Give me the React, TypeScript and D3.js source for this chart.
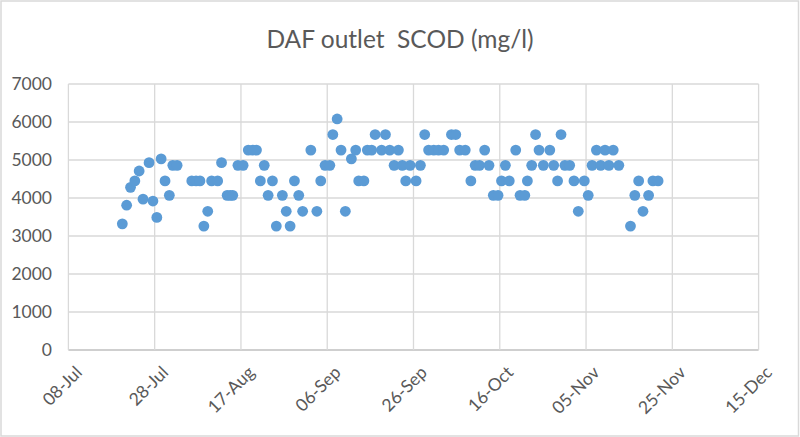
import React from "react";
import * as d3 from "d3";

// Days since 08-Jul and SCOD values (mg/l)
const dayOffsets = [
  12.5, 13.5, 14.4, 15.4, 16.4, 17.3, 18.7, 19.6, 20.5, 21.5, 22.4, 23.4, 24.2, 25.2,
  28.6, 29.6, 30.5, 31.4, 32.3, 33.2, 34.6, 35.5, 36.8, 37.5, 38.1, 39.3, 40.5,
  41.7, 42.7, 43.6, 44.5, 45.4, 46.3, 47.3, 48.2, 49.6, 50.5, 51.4, 52.4, 53.4, 54.3,
  56.2, 57.6, 58.5, 59.5, 60.6, 61.3, 62.3, 63.2, 64.2, 65.6, 66.6, 67.3, 68.5,
  69.3, 70.3, 71.1, 72.6, 73.5, 74.5, 75.5, 76.5, 77.4, 78.2, 79.2, 80.6, 81.6, 82.6,
  83.5, 84.7, 85.8, 87.0, 88.8, 89.8, 90.7, 92.0, 93.3, 94.3, 95.3, 96.5, 97.5,
  98.5, 99.6, 100.4, 101.3, 102.2, 103.7, 104.7, 105.8, 106.4, 107.4, 108.3, 109.1,
  110.1, 111.6, 112.5, 113.4, 114.2, 115.1, 116.2, 117.2, 118.2, 119.6, 120.5, 121.4,
  122.4, 123.4, 124.4, 125.3, 126.3, 127.6, 130.3, 131.3, 132.2, 133.2, 134.5, 135.5, 136.7,
];
const scod = [
  3320, 3810, 4280, 4450, 4710, 3970, 4930, 3920, 3490, 5030, 4450, 4070, 4860, 4860,
  4450, 4450, 4450, 3260, 3650, 4450, 4450, 4930, 4070, 4070, 4070, 4860, 4860,
  5260, 5260, 5260, 4450, 4860, 4070, 4450, 3260, 4070, 3650, 3260, 4450, 4070, 3650,
  5260, 3650, 4450, 4860, 4860, 5670, 6080, 5260, 3650, 5030, 5260, 4450, 4450,
  5260, 5260, 5670, 5260, 5670, 5260, 4860, 5260, 4860, 4450, 4860, 4450, 4860, 5670,
  5260, 5260, 5260, 5260, 5670, 5670, 5260, 5260, 4450, 4860, 4860, 5260, 4860,
  4070, 4070, 4450, 4860, 4450, 5260, 4070, 4070, 4450, 4860, 5670, 5260,
  4860, 5260, 4860, 4450, 5670, 4860, 4860, 4450, 3650, 4450, 4070, 4860,
  5260, 4860, 5260, 4860, 5260, 4860, 3260, 4070, 4450, 3650, 4070, 4450, 4450,
];
const yTicks = [0, 1000, 2000, 3000, 4000, 5000, 6000, 7000];
const xTickDays = [0, 20, 40, 60, 80, 100, 120, 140, 160];
const title = "DAF outlet\u00A0 SCOD (mg/l)";

const startDate = new Date(2019, 6, 8);
const endDate = new Date(2019, 11, 15);
const addDays = (d: Date, n: number) => new Date(d.getTime() + n * 86400000);

export default function App() {
  const W = 800, H = 437;
  const left = 68.4, right = 758.6, top = 84, bottom = 350;
  const x = d3.scaleTime().domain([startDate, endDate]).range([left, right]);
  const y = d3.scaleLinear().domain([0, 7000]).range([bottom, top]);
  const fmt = d3.timeFormat("%d-%b");
  const font = "Lato, 'Open Sans', sans-serif";
  const txt = "#595959";
  const points = dayOffsets.map((d, i) => ({ date: addDays(startDate, d), v: scod[i] }));
  const xTicks = xTickDays.map((d) => addDays(startDate, d));

  return (
    <svg width={W} height={H} style={{ position: "absolute", left: 0, top: 0 }} fontFamily={font}>
      <rect x={0} y={0} width={W} height={H} fill="#fff" />
      <rect x={1} y={1} width={W - 2.5} height={H - 2} fill="none" stroke="#d9d9d9" strokeWidth={1.5} />
      <text x={400} y={48} textAnchor="middle" fontSize={24.5} fill={txt}>{title}</text>
      {yTicks.map((t) => (
        <g key={"y" + t}>
          <line x1={left} x2={right} y1={y(t)} y2={y(t)} stroke={t === 0 ? "#bfbfbf" : "#d9d9d9"} strokeWidth={1.3} />
          <text x={52} y={y(t)} dy="0.36em" textAnchor="end" fontSize={17.5} fill={txt}>{t}</text>
        </g>
      ))}
      {xTicks.map((t, i) => (
        <g key={"x" + i}>
          <line x1={x(t)} x2={x(t)} y1={top} y2={bottom} stroke="#d9d9d9" strokeWidth={1.3} />
          <text
            transform={`translate(${x(t) + 6},${bottom + 15}) rotate(-45)`}
            textAnchor="end"
            dy="0.7em"
            fontSize={17.5}
            fill={txt}
          >
            {fmt(t)}
          </text>
        </g>
      ))}
      {points.map((p, i) => (
        <circle key={i} cx={x(p.date)} cy={y(p.v)} r={5.4} fill="#5B9BD5" />
      ))}
    </svg>
  );
}
